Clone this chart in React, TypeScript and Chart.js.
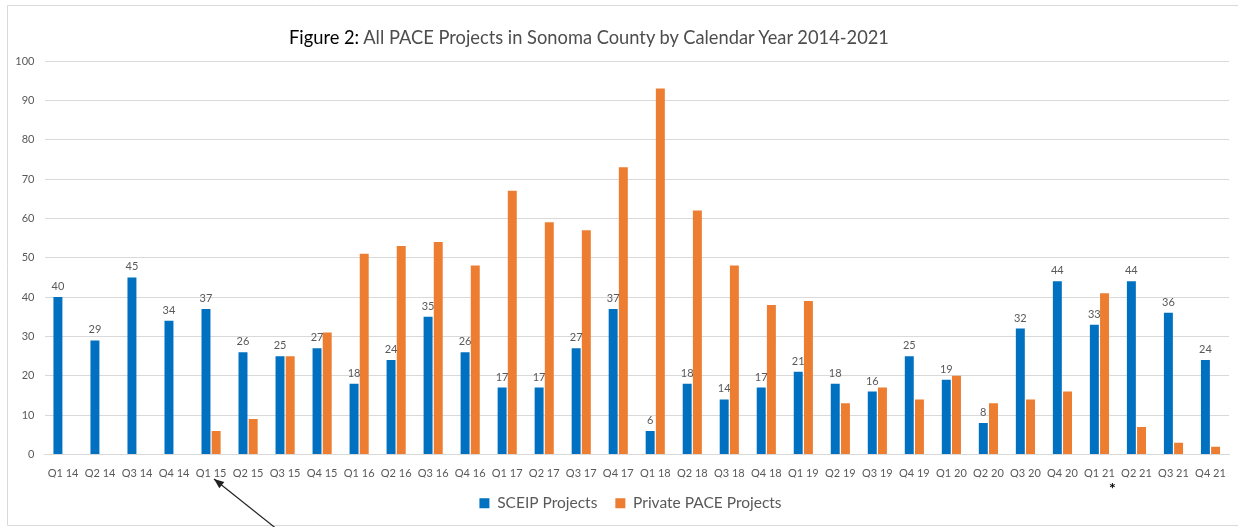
import React, { useEffect, useRef } from "react";
import { Chart, registerables } from "chart.js";

Chart.register(...registerables);

const categories = [
  "Q1 14", "Q2 14", "Q3 14", "Q4 14",
  "Q1 15", "Q2 15", "Q3 15", "Q4 15",
  "Q1 16", "Q2 16", "Q3 16", "Q4 16",
  "Q1 17", "Q2 17", "Q3 17", "Q4 17",
  "Q1 18", "Q2 18", "Q3 18", "Q4 18",
  "Q1 19", "Q2 19", "Q3 19", "Q4 19",
  "Q1 20", "Q2 20", "Q3 20", "Q4 20",
  "Q1 21", "Q2 21", "Q3 21", "Q4 21",
];

const sceipProjects = [
  40, 29, 45, 34,
  37, 26, 25, 27,
  18, 24, 35, 26,
  17, 17, 27, 37,
  6, 18, 14, 17,
  21, 18, 16, 25,
  19, 8, 32, 44,
  33, 44, 36, 24,
];

const privatePaceProjects: (number | null)[] = [
  null, null, null, null,
  6, 9, 25, 31,
  51, 53, 54, 48,
  67, 59, 57, 73,
  93, 62, 48, 38,
  39, 13, 17, 14,
  20, 13, 14, 16,
  41, 7, 3, 2,
];

const seriesNames = ["SCEIP Projects", "Private PACE Projects"];
const yTicks = [0, 10, 20, 30, 40, 50, 60, 70, 80, 90, 100];

const FONT = "Lato, 'Open Sans', sans-serif";

const decorPlugin = {
  id: "decor",
  afterLayout(chart: any) {
    const lg = chart.legend;
    if (lg) {
      lg.left += 16;
      lg.right += 16;
    }
  },
  afterDatasetsDraw(chart: any) {
    const ctx = chart.ctx;
    const meta = chart.getDatasetMeta(0);
    ctx.save();
    ctx.font = `11px ${FONT}`;
    ctx.fillStyle = "#595959";
    ctx.textAlign = "center";
    ctx.textBaseline = "bottom";
    meta.data.forEach((bar: any, i: number) => {
      ctx.fillText(String(sceipProjects[i]), bar.x, bar.y - 5);
    });
    ctx.restore();
  },
  afterDraw(chart: any) {
    const ctx = chart.ctx;
    ctx.save();
    // frame
    ctx.strokeStyle = "#d9d9d9";
    ctx.lineWidth = 1;
    ctx.beginPath();
    ctx.moveTo(1240, 5.5);
    ctx.lineTo(7.5, 5.5);
    ctx.lineTo(7.5, 525.5);
    ctx.lineTo(1240, 525.5);
    ctx.stroke();
    // arrow
    const x0 = 278, y0 = 530, x1 = 214, y1 = 479;
    ctx.strokeStyle = "#222";
    ctx.fillStyle = "#222";
    ctx.lineWidth = 1.2;
    ctx.beginPath();
    ctx.moveTo(x0, y0);
    ctx.lineTo(x1, y1);
    ctx.stroke();
    const ang = Math.atan2(y1 - y0, x1 - x0);
    const L = 10, W = 4;
    ctx.beginPath();
    ctx.moveTo(x1, y1);
    ctx.lineTo(x1 - L * Math.cos(ang) + W * Math.sin(ang), y1 - L * Math.sin(ang) - W * Math.cos(ang));
    ctx.lineTo(x1 - L * Math.cos(ang) - W * Math.sin(ang), y1 - L * Math.sin(ang) + W * Math.cos(ang));
    ctx.closePath();
    ctx.fill();
    // asterisk under Q1 21
    const xs = chart.scales.x;
    const ax = xs.getPixelForValue(28) + 13;
    ctx.font = `bold 16px ${FONT}`;
    ctx.fillStyle = "#000";
    ctx.textAlign = "center";
    ctx.textBaseline = "middle";
    ctx.fillText("*", ax, 489);
    ctx.restore();
  },
};

export default function App() {
  const canvasRef = useRef<HTMLCanvasElement | null>(null);

  useEffect(() => {
    document.body.style.margin = "0";
    const canvas = canvasRef.current;
    if (!canvas) return;
    const chart = new Chart(canvas, {
      type: "bar",
      data: {
        labels: categories,
        datasets: [
          {
            label: seriesNames[0],
            data: sceipProjects,
            backgroundColor: "#0070c0",
            barPercentage: 0.88,
            categoryPercentage: 0.55,
          },
          {
            label: seriesNames[1],
            data: privatePaceProjects,
            backgroundColor: "#ed7d31",
            barPercentage: 0.88,
            categoryPercentage: 0.55,
          },
        ],
      },
      options: {
        animation: false,
        responsive: false,
        maintainAspectRatio: false,
        layout: { padding: { top: 61, left: 0, right: 9, bottom: 6 } },
        scales: {
          x: {
            grid: { display: false },
            border: { display: true, color: "#d9d9d9" },
            ticks: {
              color: "#595959",
              font: { family: FONT, size: 11 },
              maxRotation: 0,
              autoSkip: false,
              padding: 4,
            },
            afterFit: (s: any) => { s.height = 23; },
          },
          y: {
            min: 0,
            max: 100,
            afterBuildTicks: (s: any) => { s.ticks = yTicks.map((v) => ({ value: v })); },
            grid: { color: "#d9d9d9", drawTicks: false },
            border: { display: false },
            ticks: {
              color: "#595959",
              font: { family: FONT, size: 11 },
              padding: 10,
            },
            afterFit: (s: any) => { s.width = 44.5; },
          },
        },
        plugins: {
          legend: {
            position: "bottom",
            labels: {
              color: "#595959",
              font: { family: FONT, size: 15.5 },
              boxWidth: 10,
              boxHeight: 10,
              padding: 18,
            },
          },
          tooltip: { enabled: false },
          title: { display: false },
        },
      },
      plugins: [decorPlugin],
    } as any);
    return () => chart.destroy();
  }, []);

  return (
    <div style={{ position: "relative", width: 1238, height: 527, background: "#fff" }}>
      <canvas ref={canvasRef} width={1238} height={527} style={{ display: "block" }} />
      <div
        style={{
          position: "absolute",
          left: 289,
          top: 25,
          fontFamily: FONT,
          fontSize: 18.3,
          whiteSpace: "nowrap",
          lineHeight: "24px",
        }}
      >
        <span style={{ color: "#000" }}>Figure 2:</span>
        <span style={{ color: "#4d4d4d" }}> All PACE Projects in Sonoma County by Calendar Year 2014-2021</span>
      </div>
    </div>
  );
}
